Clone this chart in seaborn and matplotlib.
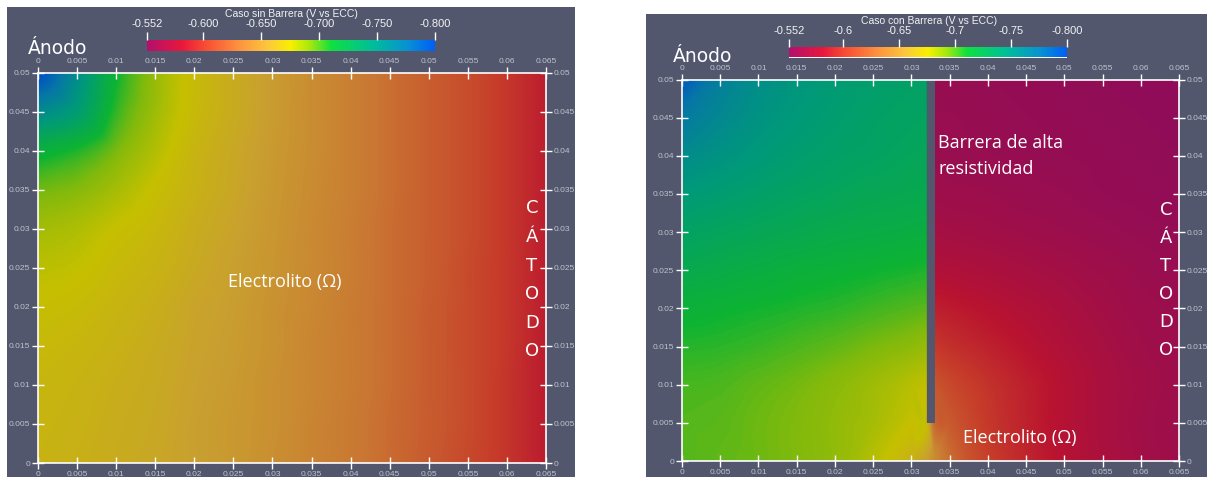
import numpy as np
import matplotlib
matplotlib.use("Agg")
import matplotlib.pyplot as plt
import matplotlib.tri as mtri
import seaborn as sns
from matplotlib.colors import LinearSegmentedColormap, Normalize, to_rgb
from matplotlib.patches import Rectangle

# ---------------------------------------------------------------- data
# colour scale limits, potential in V vs ECC
v_high = -0.552
v_low = -0.800
cbar_ticks = [-0.552, -0.600, -0.650, -0.700, -0.750, -0.800]
cbar_labels_sin = ["-0.552", "-0.600", "-0.650", "-0.700", "-0.750", "-0.800"]
cbar_labels_con = ["-0.552", "-0.6", "-0.65", "-0.7", "-0.75", "-0.800"]

# domain ticks (m)
x_ticks = [0, 0.005, 0.01, 0.015, 0.02, 0.025, 0.03, 0.035, 0.04, 0.045, 0.05, 0.055, 0.06, 0.065]
y_ticks = [0, 0.005, 0.01, 0.015, 0.02, 0.025, 0.03, 0.035, 0.04, 0.045, 0.05]

# sampling nodes, rows listed from y = 0.05 (top) down to y = 0
y_nodes = [0.05, 0.045, 0.04, 0.035, 0.03, 0.025, 0.02, 0.015, 0.01, 0.005, 0.0]

# case without barrier
x_sin = [0, 0.005, 0.01, 0.015, 0.02, 0.025, 0.03, 0.035, 0.04, 0.045, 0.05, 0.055, 0.06, 0.065]
phi_sin = [
    [-0.800, -0.757, -0.712, -0.688, -0.673, -0.663, -0.654, -0.645, -0.637, -0.628, -0.619, -0.610, -0.599, -0.587],
    [-0.759, -0.741, -0.705, -0.686, -0.672, -0.663, -0.654, -0.645, -0.637, -0.628, -0.619, -0.610, -0.599, -0.587],
    [-0.717, -0.708, -0.694, -0.681, -0.669, -0.661, -0.653, -0.645, -0.637, -0.628, -0.619, -0.610, -0.599, -0.587],
    [-0.696, -0.692, -0.684, -0.675, -0.667, -0.660, -0.652, -0.644, -0.637, -0.628, -0.619, -0.610, -0.599, -0.587],
    [-0.685, -0.682, -0.676, -0.671, -0.664, -0.658, -0.651, -0.643, -0.636, -0.627, -0.619, -0.610, -0.599, -0.587],
    [-0.679, -0.677, -0.672, -0.668, -0.662, -0.656, -0.650, -0.643, -0.636, -0.627, -0.619, -0.609, -0.599, -0.587],
    [-0.675, -0.673, -0.669, -0.665, -0.659, -0.655, -0.648, -0.642, -0.635, -0.627, -0.618, -0.609, -0.599, -0.587],
    [-0.672, -0.670, -0.667, -0.663, -0.658, -0.654, -0.648, -0.641, -0.635, -0.627, -0.618, -0.609, -0.599, -0.586],
    [-0.670, -0.668, -0.665, -0.662, -0.657, -0.653, -0.647, -0.641, -0.635, -0.627, -0.618, -0.609, -0.598, -0.586],
    [-0.669, -0.667, -0.664, -0.661, -0.656, -0.652, -0.647, -0.640, -0.634, -0.626, -0.618, -0.609, -0.598, -0.586],
    [-0.668, -0.666, -0.663, -0.660, -0.656, -0.652, -0.646, -0.640, -0.634, -0.626, -0.617, -0.608, -0.598, -0.586],
]

# case with barrier (columns 0.032 / 0.033 sit on either side of the barrier)
x_con = [0, 0.005, 0.01, 0.015, 0.02, 0.025, 0.03, 0.032, 0.033, 0.035, 0.04, 0.045, 0.05, 0.055, 0.06, 0.065]
phi_con = [
    [-0.792, -0.768, -0.755, -0.748, -0.743, -0.739, -0.736, -0.735, -0.557, -0.557, -0.556, -0.555, -0.554, -0.553, -0.552, -0.552],
    [-0.772, -0.760, -0.751, -0.745, -0.740, -0.736, -0.733, -0.732, -0.558, -0.558, -0.557, -0.556, -0.555, -0.554, -0.553, -0.552],
    [-0.757, -0.751, -0.745, -0.740, -0.736, -0.733, -0.730, -0.729, -0.560, -0.559, -0.558, -0.557, -0.556, -0.555, -0.554, -0.553],
    [-0.745, -0.741, -0.737, -0.733, -0.730, -0.727, -0.725, -0.724, -0.563, -0.562, -0.561, -0.559, -0.558, -0.556, -0.555, -0.554],
    [-0.734, -0.731, -0.728, -0.725, -0.722, -0.720, -0.718, -0.717, -0.568, -0.567, -0.565, -0.563, -0.561, -0.559, -0.557, -0.556],
    [-0.724, -0.721, -0.718, -0.715, -0.713, -0.711, -0.709, -0.708, -0.576, -0.575, -0.572, -0.569, -0.566, -0.563, -0.560, -0.558],
    [-0.714, -0.712, -0.710, -0.708, -0.706, -0.703, -0.700, -0.699, -0.588, -0.586, -0.581, -0.576, -0.571, -0.566, -0.562, -0.560],
    [-0.707, -0.706, -0.704, -0.701, -0.698, -0.694, -0.690, -0.688, -0.600, -0.596, -0.589, -0.582, -0.575, -0.569, -0.564, -0.561],
    [-0.702, -0.701, -0.698, -0.695, -0.691, -0.686, -0.680, -0.677, -0.615, -0.608, -0.597, -0.588, -0.579, -0.571, -0.566, -0.562],
    [-0.700, -0.699, -0.696, -0.693, -0.689, -0.684, -0.676, -0.672, -0.625, -0.617, -0.600, -0.589, -0.579, -0.571, -0.565, -0.562],
    [-0.700, -0.698, -0.696, -0.693, -0.689, -0.680, -0.666, -0.655, -0.645, -0.628, -0.604, -0.591, -0.580, -0.572, -0.566, -0.562],
]

# high-resistivity barrier: x range and lower end (m)
barrier_x = [0.0320, 0.0331]
barrier_y0 = 0.005

# ---------------------------------------------------------------- style
W, H = 1207, 479
BG = "#52576e"
TICK_TXT = "#bfc2cc"

sns.set_theme(style="white")
plt.rcParams["font.family"] = ["Liberation Sans", "DejaVu Sans"]

cmap_stops = [
    (0.00, "#0060f8"), (0.10, "#0894d0"), (0.22, "#00c098"), (0.36, "#10e040"),
    (0.43, "#a0e810"), (0.50, "#f8f000"), (0.58, "#fcc83c"), (0.68, "#fc9440"),
    (0.80, "#f84c34"), (0.88, "#e8183c"), (1.00, "#b4106e"),
]
cmap_bar = LinearSegmentedColormap.from_list("pv_bar", cmap_stops)
# the rendered surface is lit, so it reads darker than the legend
cmap_field = LinearSegmentedColormap.from_list(
    "pv_field", [(p, tuple(0.8 * c for c in to_rgb(col))) for p, col in cmap_stops])
norm = Normalize(vmin=v_low, vmax=v_high)

fig = plt.figure(figsize=(W / 100, H / 100), dpi=100)
fig.patch.set_facecolor("white")


def frac(x0, y0, x1, y1):
    """pixel box (top-left origin) -> figure fraction rect"""
    return [x0 / W, 1 - y1 / H, (x1 - x0) / W, (y1 - y0) / H]


def fig_xy(x, y):
    return x / W, 1 - y / H


# gray render-window backgrounds, drawn beneath everything else
for box in [(7, 7, 575, 477), (646, 14, 1207, 477)]:
    r = frac(*box)
    fig.patches.append(Rectangle((r[0], r[1]), r[2], r[3], transform=fig.transFigure,
                                 facecolor=BG, edgecolor="none", zorder=-10))


def smooth_field(ax, xs, phi, cut=None):
    """cubic surface through the nodal potentials; `cut` decouples both barrier faces"""
    X, Y = np.meshgrid(np.asarray(xs), np.asarray(y_nodes))
    tri = mtri.Triangulation(X.ravel(), Y.ravel())
    if cut is not None:
        cx = X.ravel()[tri.triangles].mean(axis=1)
        cy = Y.ravel()[tri.triangles].mean(axis=1)
        tri.set_mask((cx > cut[0]) & (cx < cut[1]) & (cy > cut[2]))
    interp = mtri.CubicTriInterpolator(tri, np.asarray(phi).ravel(), kind="geom")
    gx, gy = np.meshgrid(np.linspace(0, 0.065, 651), np.linspace(0, 0.05, 501))
    field = interp(gx, gy)
    ax.imshow(field, origin="lower", extent=[0, 0.065, 0, 0.05], aspect="auto",
              cmap=cmap_field, norm=norm, interpolation="bilinear", zorder=0)


def field_panel(box, xs, phi, cut=None):
    ax = fig.add_axes(frac(*box))
    ax.set_facecolor("none")
    smooth_field(ax, xs, phi, cut)
    ax.set_xlim(0, 0.065)
    ax.set_ylim(0, 0.05)
    ax.set_xticks(x_ticks)
    ax.set_yticks(y_ticks)
    ax.set_xticklabels([f"{v:g}" for v in x_ticks])
    ax.set_yticklabels([f"{v:g}" for v in y_ticks])
    ax.tick_params(axis="both", which="major", direction="inout", length=9, width=1,
                   color="white", labelsize=6, labelcolor=TICK_TXT, pad=1,
                   top=True, bottom=True, left=True, right=True,
                   labeltop=True, labelbottom=True, labelleft=True, labelright=True)
    for s in ax.spines.values():
        s.set_color("white")
        s.set_linewidth(1.2)
        s.set_visible(True)
    ax.grid(False)
    return ax


def color_bar(box, labels, title, title_xy):
    cax = fig.add_axes(frac(*box))
    grad = np.linspace(v_high, v_low, 512)[None, :]
    cax.imshow(grad, aspect="auto", cmap=cmap_bar, norm=norm,
               extent=[v_high, v_low, 0, 1], interpolation="bilinear")
    cax.set_xlim(v_high, v_low)
    cax.set_xticks(cbar_ticks)
    cax.set_xticklabels(labels)
    cax.set_yticks([])
    cax.xaxis.set_ticks_position("top")
    cax.tick_params(axis="x", direction="out", length=6, width=1, color="white",
                    labelsize=8, labelcolor="#f2f2f2", pad=2)
    for s in cax.spines.values():
        s.set_visible(False)
    fig.text(*fig_xy(*title_xy), title, ha="center", va="center",
             fontsize=7.5, color="#f2f2f2")
    return cax


over_font = ["Open Sans", "DejaVu Sans"]
geo_font = ["DejaVu Sans"]

# ---------------------------------------------------------------- left: without barrier
ax1 = field_panel((38, 72.5, 546, 463), x_sin, phi_sin)
color_bar((147, 40, 435, 51), cbar_labels_sin, "Caso sin Barrera (V vs ECC)", (291, 14))
fig.text(*fig_xy(58, 49), "Ánodo", ha="center", va="center", fontsize=13.5,
         color="white", family=geo_font)
ax1.text(0.0316, 0.0232, "Electrolito (Ω)", ha="center", va="center",
         fontsize=13, color="white", family=over_font)
for i, ch in enumerate("CÁTODO"):
    ax1.text(0.0632, 0.0326 - i * 0.00366, ch, ha="center", va="center",
             fontsize=13, color="white", family=geo_font)

# ---------------------------------------------------------------- right: with barrier
ax2 = field_panel((682, 79.5, 1179, 461), x_con, phi_con,
                  cut=(barrier_x[0] - 1e-4, barrier_x[1] + 1e-4, barrier_y0))
ax2.add_patch(Rectangle((barrier_x[0], barrier_y0), barrier_x[1] - barrier_x[0],
                        0.05 - barrier_y0, facecolor=BG, edgecolor="none", zorder=2))
color_bar((789, 47, 1067, 57.5), cbar_labels_con, "Caso con Barrera (V vs ECC)", (929, 21))
fig.text(*fig_xy(703, 56), "Ánodo", ha="center", va="center", fontsize=13.5,
         color="white", family=geo_font)
ax2.text(0.0442, 0.0030, "Electrolito (Ω)", ha="center", va="center",
         fontsize=13, color="white", family=over_font)
ax2.text(0.0335, 0.0400, "Barrera de alta\nresistividad", ha="left", va="center",
         fontsize=13, color="white", family=over_font, linespacing=1.55)
for i, ch in enumerate("CÁTODO"):
    ax2.text(0.0633, 0.0329 - i * 0.00366, ch, ha="center", va="center",
             fontsize=13, color="white", family=geo_font)

fig.savefig("out.png", dpi=100, facecolor="white")
